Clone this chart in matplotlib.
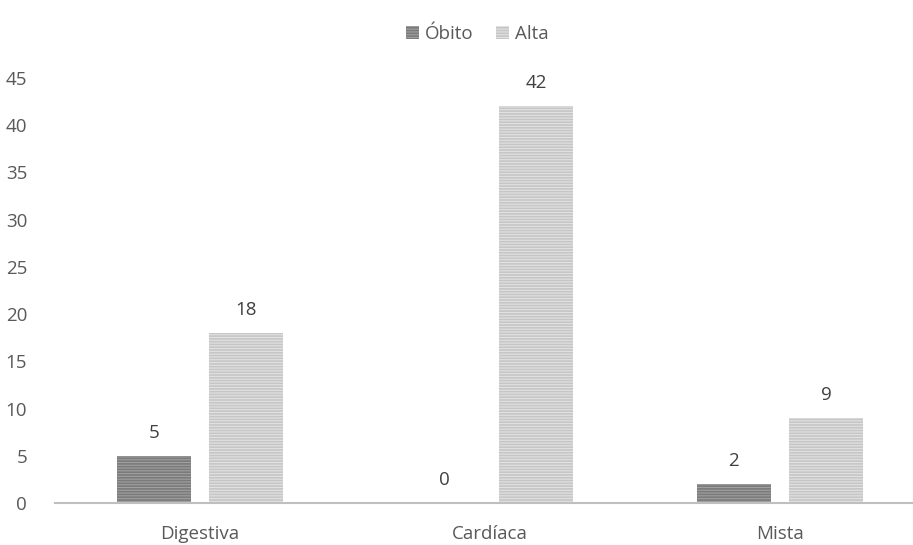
import matplotlib
matplotlib.use("Agg")
import matplotlib.pyplot as plt
import numpy as np

categories = ["Digestiva", "Cardíaca", "Mista"]
obito = [5, 0, 2]
alta = [18, 42, 9]
y_ticks = [0, 5, 10, 15, 20, 25, 30, 35, 40, 45]

plt.rcParams["font.family"] = ["Open Sans", "DejaVu Sans"]
plt.rcParams["hatch.linewidth"] = 0.8

fig = plt.figure(figsize=(9.13, 5.45), dpi=100)
ax = fig.add_axes([55 / 913, 42 / 545, 1 - 55 / 913, (503 - 78) / 545])

x = np.arange(len(categories))
w = 0.255
off = 0.159

ax.bar(x - off, obito, w, facecolor="#7a7a7a", edgecolor="#a0a0a0",
       hatch="------", linewidth=0, label="Óbito")
ax.bar(x + off, alta, w, facecolor="#c6c6c6", edgecolor="#e2e2e2",
       hatch="------", linewidth=0, label="Alta")

text_color = "#595959"
fs = 13.5
for xi, v in zip(x - off, obito):
    ax.annotate(str(v), (xi, v), xytext=(0, 10), textcoords="offset points",
                ha="center", va="bottom", fontsize=fs, color="#404040")
for xi, v in zip(x + off, alta):
    ax.annotate(str(v), (xi, v), xytext=(0, 10), textcoords="offset points",
                ha="center", va="bottom", fontsize=fs, color="#404040")

ax.set_xlim(-0.5, 2.5 - 12 / 290)
ax.set_ylim(0, 45)
ax.set_yticks(y_ticks)
ax.set_xticks(x)
ax.set_xticklabels(categories)
ax.tick_params(axis="both", length=0, labelsize=fs, colors=text_color)
ax.tick_params(axis="y", pad=20)
ax.tick_params(axis="x", pad=16)

for s in ["top", "right", "left"]:
    ax.spines[s].set_visible(False)
ax.spines["bottom"].set_color("#bfbfbf")
ax.spines["bottom"].set_linewidth(1.5)

leg = fig.legend(loc="upper center", bbox_to_anchor=(0.523, 0.985), ncol=2,
                 frameon=False, fontsize=fs, handlelength=0.7, handleheight=0.7,
                 handletextpad=0.3, columnspacing=1.2, labelcolor=text_color)

fig.savefig("out.png", dpi=100)
